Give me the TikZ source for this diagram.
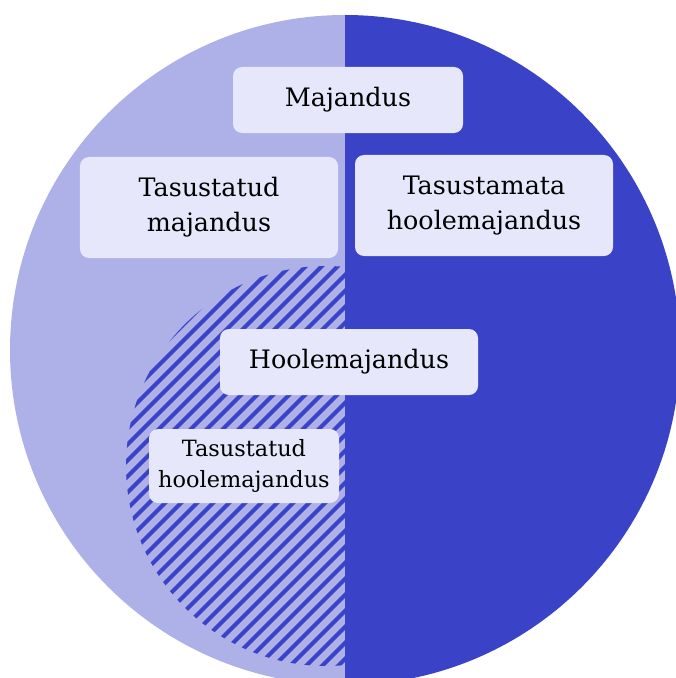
\documentclass[tikz,border=0pt]{standalone}
\usepackage{fontspec}
\setmainfont{DejaVu Serif}
\definecolor{paidhalf}{HTML}{AEB0E8}
\definecolor{unpaidhalf}{HTML}{3A43C7}
\definecolor{tagfill}{HTML}{E6E7FA}
\tikzset{
  tagbox/.style={rectangle, rounded corners=9bp, fill=tagfill, inner sep=0pt, align=center, text=black, font=\fontsize{25.5}{35}\selectfont},
  smalltag/.style={tagbox, font=\fontsize{22.5}{31}\selectfont},
}

\begin{document}
\begin{tikzpicture}[x=1bp,y=-1bp]
\useasboundingbox (0,0) rectangle (676,678);
\begin{scope}
\clip (345,350) circle[radius=335];
\fill[paidhalf] (0,0) rectangle (345,700);
\fill[unpaidhalf] (345,0) rectangle (700,700);
% hatched part: paid care
\clip (326,466) circle[radius=200];
\clip (100,250) rectangle (345,700);
\foreach \c in {-400,-384,...,360}
  \draw[unpaidhalf, line width=4bp] (\c,700) -- ++(560,-560);
\end{scope}
\node[tagbox, minimum width=230bp, minimum height=66bp] (economy) at (348,100) {Majandus};
\node[tagbox, minimum width=258bp, minimum height=101bp] (paidecon) at (209,207.5) {Tasustatud\\majandus};
\node[tagbox, minimum width=258bp, minimum height=101bp] (unpaidcare) at (484,205.5) {Tasustamata\\hoolemajandus};
\node[tagbox, minimum width=258bp, minimum height=66bp] (care) at (349,362) {Hoolemajandus};
\node[smalltag, minimum width=190bp, minimum height=74bp] (paidcare) at (244,466) {Tasustatud\\hoolemajandus};
\end{tikzpicture}
\end{document}
